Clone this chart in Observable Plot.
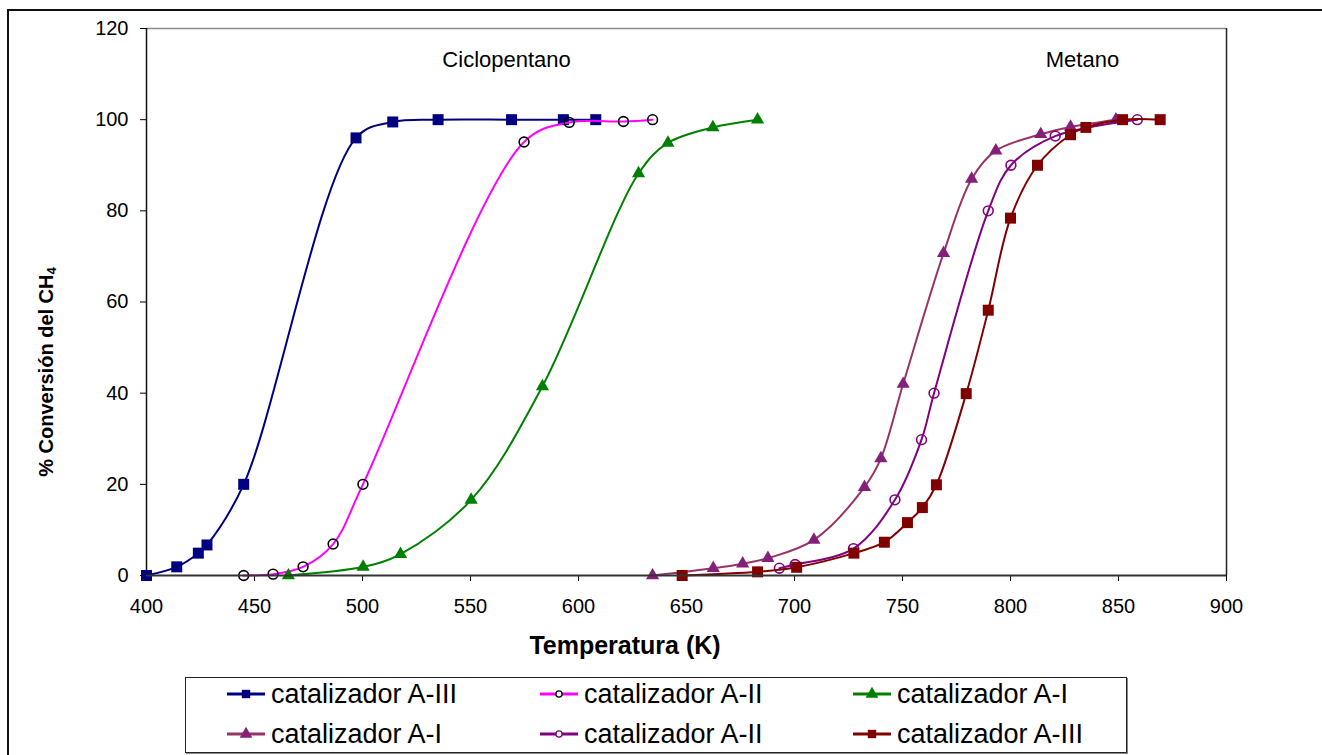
<!DOCTYPE html>
<html>
<head>
<meta charset="utf-8">
<script src="https://cdn.jsdelivr.net/npm/d3@7"></script>
<script src="https://cdn.jsdelivr.net/npm/@observablehq/plot@0.6"></script>
<style>
  html, body { margin: 0; padding: 0; background: #fff; }
  #wrap { position: relative; width: 1322px; height: 755px; overflow: hidden; background: #fff; font-family: "Liberation Sans", Arial, sans-serif; }
  #frame { position: absolute; left: 7px; top: 9px; width: 1400px; height: 800px; border-top: 2px solid #111; border-left: 2px solid #111; }
  #chart { position: absolute; left: 0; top: 0; }
  #ytitle { position: absolute; left: 47px; top: 372px; transform: translate(-50%, -50%) rotate(-90deg); white-space: nowrap; font-weight: bold; font-size: 20px; }
  #ytitle sub { font-size: 13px; vertical-align: -3px; }
  #xtitle { position: absolute; left: 625px; top: 631px; transform: translateX(-50%); white-space: nowrap; font-weight: bold; font-size: 25px; }
  #legend { position: absolute; left: 185px; top: 677px; width: 942px; height: 76px; box-sizing: border-box; border: 1px solid #222; box-shadow: 1px 1px 0 #888; background: #fff; }
  .entry { position: absolute; display: flex; align-items: center; font-size: 27px; white-space: nowrap; height: 32px; }
  .entry svg { margin-right: 6px; }
</style>
</head>
<body>
<div id="wrap">
  <div id="frame"></div>
  <div id="chart"></div>
  <div id="ytitle">% Conversión del CH<sub>4</sub></div>
  <div id="xtitle">Temperatura (K)</div>
  <div id="legend"></div>
</div>
<script>
// ---- Data ----
const xTicks = [400, 450, 500, 550, 600, 650, 700, 750, 800, 850, 900];
const yTicks = [0, 20, 40, 60, 80, 100, 120];

// Ciclopentano
const tempCpA3 = [400, 414, 424, 428, 445, 497, 514, 535, 569, 593, 608];
const convCpA3 = [0, 1.9, 4.9, 6.7, 20, 96, 99.5, 100, 100, 100, 100];
const tempCpA2 = [445, 458.6, 472.5, 486.4, 500.2, 574.8, 595.7, 620.8, 634.3];
const convCpA2 = [0, 0.3, 1.9, 6.9, 20, 95.1, 99.4, 99.6, 100];
const tempCpA1 = [465.7, 500.3, 517.6, 550.3, 583.3, 627.8, 641.4, 662.2, 682.9];
const convCpA1 = [0, 1.9, 4.7, 16.6, 41.5, 88.2, 94.9, 98.3, 100];

// Metano
const tempMeA1 = [634.3, 662.4, 676, 687.7, 709, 732.4, 740, 750.3, 769, 782, 793.2, 814, 827.8, 848.8];
const convMeA1 = [0, 1.6, 2.6, 3.8, 7.8, 19.4, 25.7, 42, 70.7, 87, 93.2, 96.8, 98.4, 100];
const tempMeA2 = [693, 700.3, 727.3, 746.5, 758.8, 764.6, 789.7, 800.2, 820.7, 858.7];
const convMeA2 = [1.6, 2.4, 5.9, 16.6, 29.8, 40, 80, 90, 96.4, 100];
const tempMeA3 = [648, 682.9, 701, 727.5, 741.6, 752.3, 759.2, 765.7, 779.5, 789.7, 800, 812.5, 827.8, 834.9, 851.9, 869.3];
const convMeA3 = [0, 0.8, 1.8, 4.9, 7.3, 11.6, 14.9, 19.9, 39.9, 58.2, 78.4, 90, 96.7, 98.3, 100, 100];

const seriesNames = ["catalizador A-III", "catalizador A-II", "catalizador A-I", "catalizador A-I", "catalizador A-II", "catalizador A-III"];
const groupLabels = ["Ciclopentano", "Metano"];
const groupLabelX = [566.7, 833.3];
const groupLabelY = [113.2, 113.2];

// ---- Build tables ----
const zip = (t, c) => t.map((x, i) => ({ t: x, c: c[i] }));
const series = [
  { name: seriesNames[0], data: zip(tempCpA3, convCpA3), line: "#000080", symbol: "square", fill: "#000080", stroke: "none", r: 6.2 },
  { name: seriesNames[1], data: zip(tempCpA2, convCpA2), line: "#ff00ff", symbol: "circle", fill: "none", stroke: "#000", r: 4.9 },
  { name: seriesNames[2], data: zip(tempCpA1, convCpA1), line: "#008000", symbol: "triangle", fill: "#008000", stroke: "none", r: 4.9 },
  { name: seriesNames[3], data: zip(tempMeA1, convMeA1), line: "#993366", symbol: "triangle", fill: "#85207a", stroke: "none", r: 4.9 },
  { name: seriesNames[4], data: zip(tempMeA2, convMeA2), line: "#800080", symbol: "circle", fill: "none", stroke: "#800080", r: 4.9 },
  { name: seriesNames[5], data: zip(tempMeA3, convMeA3), line: "#800000", symbol: "square", fill: "#800000", stroke: "none", r: 6.2 }
];

const marks = [
  Plot.ruleY([120], { stroke: "#888", strokeWidth: 1.5 }),
  Plot.ruleX([900], { stroke: "#222", strokeWidth: 1.5 }),
  Plot.ruleX([400], { stroke: "#111", strokeWidth: 1.5 }),
  Plot.axisX({ ticks: xTicks, tickSize: 6, tickPadding: 17, fontSize: 20, label: null, tickFormat: d => d }),
  Plot.axisY({ ticks: yTicks, tickSize: 6, tickPadding: 12, fontSize: 20, label: null, tickFormat: d => d }),
  Plot.text(groupLabels, { x: (d, i) => groupLabelX[i], y: (d, i) => groupLabelY[i], text: d => d, fontSize: 22, fill: "#000" })
];
for (const s of series) {
  marks.push(Plot.line(s.data, { x: "t", y: "c", stroke: s.line, strokeWidth: 2, curve: "catmull-rom" }));
  marks.push(Plot.dot(s.data, { x: "t", y: "c", symbol: s.symbol, r: s.r, fill: s.fill, stroke: s.stroke, strokeWidth: s.fill === "none" ? 1.6 : 0 }));
}
marks.push(Plot.ruleY([0], { stroke: "#333", strokeWidth: 2 }));

const chart = Plot.plot({
  width: 1322,
  height: 670,
  marginLeft: 146,
  marginRight: 96,
  marginTop: 28,
  marginBottom: 95,
  x: { domain: [400, 900] },
  y: { domain: [0, 120] },
  style: { fontFamily: "'Liberation Sans', Arial, sans-serif", color: "#000", background: "transparent", overflow: "visible" },
  marks
});
document.getElementById("chart").appendChild(chart);

// ---- Legend ----
const legend = d3.select("#legend");
const colX = [41, 354, 667];
const rowY = [0, 40];
series.forEach((s, i) => {
  const col = i % 3, row = Math.floor(i / 3);
  const e = legend.append("div").attr("class", "entry")
    .style("left", colX[col] + "px").style("top", (rowY[row]) + "px");
  const svg = e.append("svg").attr("width", 38).attr("height", 30);
  svg.append("line").attr("x1", 0).attr("x2", 38).attr("y1", 15).attr("y2", 15).attr("stroke", s.line).attr("stroke-width", 3);
  const sym = s.symbol === "square" ? d3.symbolSquare : s.symbol === "triangle" ? d3.symbolTriangle : d3.symbolCircle;
  const size = s.symbol === "circle" ? 30 : 70;
  svg.append("path").attr("d", d3.symbol(sym, size)()).attr("transform", "translate(19,15)")
    .attr("fill", s.fill === "none" ? "#fff" : s.fill).attr("stroke", s.stroke === "none" ? "none" : s.stroke).attr("stroke-width", 1.3);
  e.append("span").text(s.name);
});
</script>
</body>
</html>
